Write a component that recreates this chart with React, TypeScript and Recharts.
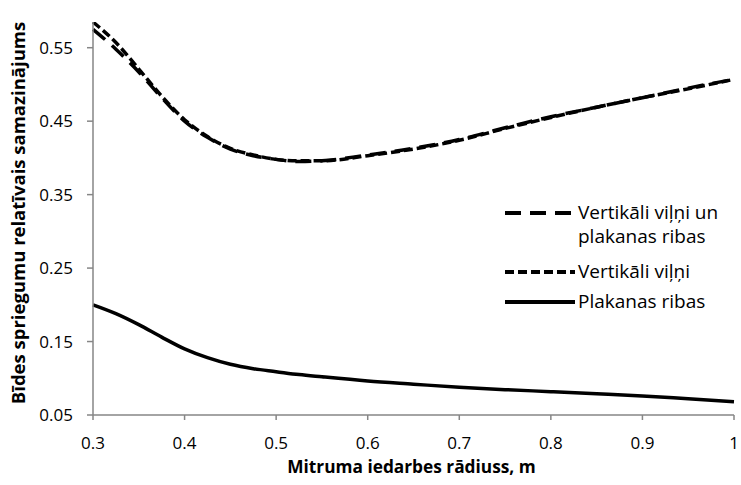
import React from 'react';
import { LineChart, Line, XAxis, YAxis, Legend, Label } from 'recharts';

const radius = [0.3, 0.325, 0.35, 0.375, 0.4, 0.425, 0.45, 0.475, 0.5, 0.525, 0.55, 0.6, 0.65, 0.7, 0.75, 0.8, 0.85, 0.9, 0.95, 1.0];
const combined = [0.575, 0.548, 0.517, 0.482, 0.45, 0.428, 0.412, 0.403, 0.398, 0.395, 0.396, 0.404, 0.413, 0.425, 0.441, 0.456, 0.469, 0.482, 0.495, 0.507];
const waves = [0.585, 0.557, 0.521, 0.484, 0.452, 0.429, 0.413, 0.404, 0.398, 0.396, 0.396, 0.403, 0.412, 0.424, 0.44, 0.455, 0.469, 0.482, 0.494, 0.507];
const flat = [0.2, 0.188, 0.173, 0.156, 0.14, 0.128, 0.119, 0.113, 0.109, 0.105, 0.102, 0.0964, 0.092, 0.0877, 0.0845, 0.0818, 0.079, 0.076, 0.072, 0.068];

const xTicks = [0.3, 0.4, 0.5, 0.6, 0.7, 0.8, 0.9, 1];
const yTicks = [0.05, 0.15, 0.25, 0.35, 0.45, 0.55];

const nameCombined = 'Vertikāli viļņi un plakanas ribas';
const nameWaves = 'Vertikāli viļņi';
const nameFlat = 'Plakanas ribas';
const xTitle = 'Mitruma iedarbes rādiuss, m';
const yTitle = 'Bīdes spriegumu relatīvais samazinājums';

const data = radius.map((r, i) => ({ r, combined: combined[i], waves: waves[i], flat: flat[i] }));

const FONT = '"Open Sans", sans-serif';
const AXIS = '#868686';

const LegendContent = () => {
  const rowText: React.CSSProperties = { position: 'absolute', left: 578, fontSize: 19, color: '#000', fontFamily: FONT, lineHeight: '24px', whiteSpace: 'nowrap' };
  const sample = (top: number, dash: string | undefined) => (
    <svg style={{ position: 'absolute', left: 504, top: top - 5, overflow: 'visible' }} width={72} height={10}>
      <line x1={1} y1={5} x2={71} y2={5} stroke="#000" strokeWidth={4} strokeDasharray={dash} />
    </svg>
  );
  return (
    <div style={{ position: 'relative', width: 741, height: 485 }}>
      {sample(213, '16 9')}
      <div style={{ ...rowText, top: 200 }}>Vertikāli viļņi un<br />plakanas ribas</div>
      {sample(272, '9 4')}
      <div style={{ ...rowText, top: 259 }}>{nameWaves}</div>
      {sample(302, undefined)}
      <div style={{ ...rowText, top: 289 }}>{nameFlat}</div>
    </div>
  );
};

export default function App() {
  return (
    <div style={{ position: 'absolute', left: 0, top: 0, background: '#fff' }}>
      <LineChart width={741} height={485} data={data} margin={{ top: 22, right: 7, left: 0, bottom: 0 }}>
        <XAxis
          dataKey="r"
          type="number"
          domain={[0.3, 1]}
          ticks={xTicks}
          tickFormatter={(v: number) => String(v)}
          height={70}
          stroke={AXIS}
          strokeWidth={1.5}
          tickSize={5}
          tickMargin={17}
          tick={{ fill: '#000', fontSize: 17, fontFamily: FONT }}
        >
          <Label
            content={({ viewBox }: any) => (
              <text x={viewBox.x + viewBox.width / 2 - 2} y={473} textAnchor="middle" fontFamily={FONT} fontWeight="bold" fontSize={17.3} fill="#000">
                {xTitle}
              </text>
            )}
          />
        </XAxis>
        <YAxis
          type="number"
          domain={[0.05, 0.585]}
          allowDataOverflow
          ticks={yTicks}
          tickFormatter={(v: number) => v.toFixed(2)}
          width={93}
          stroke={AXIS}
          strokeWidth={1.5}
          tickSize={6}
          tickMargin={14}
          tick={{ fill: '#000', fontSize: 17, fontFamily: FONT }}
        >
          <Label
            content={() => (
              <text x={0} y={0} transform="translate(25, 213) rotate(-90)" textAnchor="middle" fontFamily={FONT} fontWeight="bold" fontSize={18.5} fill="#000">
                {yTitle}
              </text>
            )}
          />
        </YAxis>
        <Legend
          layout="horizontal"
          verticalAlign="middle"
          align="center"
          wrapperStyle={{ position: 'absolute', left: 0, top: 0, width: 741, height: 485 }}
          content={() => <LegendContent />}
        />
        <Line type="monotone" dataKey="flat" name={nameFlat} stroke="#000" strokeWidth={3.5} dot={false} isAnimationActive={false} />
        <Line type="monotone" dataKey="waves" name={nameWaves} stroke="#000" strokeWidth={3.5} strokeDasharray="9 4" dot={false} isAnimationActive={false} />
        <Line type="monotone" dataKey="combined" name={nameCombined} stroke="#000" strokeWidth={3.5} strokeDasharray="16 9" dot={false} isAnimationActive={false} />
      </LineChart>
    </div>
  );
}
